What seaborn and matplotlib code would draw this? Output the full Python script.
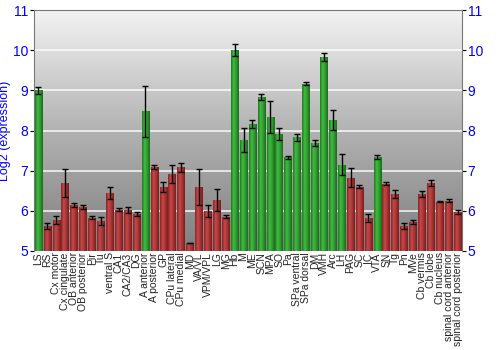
import numpy as np
import pandas as pd
import matplotlib
matplotlib.use("Agg")
import matplotlib.pyplot as plt
import seaborn as sns
from matplotlib.colors import LinearSegmentedColormap

regions = ["LS", "RS", "Cx motor", "Cx cingulate", "OB anterior", "OB posterior",
           "Pir", "Tu", "ventral S", "CA1", "CA2/CA3", "DG", "A anterior",
           "A posterior", "GP", "CPu lateral", "CPu medial", "MD", "VA/VL",
           "VPM/VPL", "LG", "MG", "Hb", "M", "ME", "SCN", "MPA", "SO", "Pa",
           "SPa ventral", "SPa dorsal", "DM", "VMH", "Arc", "LH", "PAG", "SC",
           "IC", "VTA", "SN", "Tg", "Pn", "MVe", "Cb vermis", "Cb lobe",
           "Cb nucleus", "spinal cord anterior", "spinal cord posterior"]
expression = [9.0, 5.62, 5.78, 6.7, 6.15, 6.1, 5.83, 5.75, 6.45, 6.03, 6.02, 5.93,
              8.48, 7.08, 6.6, 6.92, 7.08, 5.2, 6.6, 6.0, 6.27, 5.85, 10.0, 7.77,
              8.17, 8.84, 8.33, 7.92, 7.33, 7.83, 9.17, 7.69, 9.84, 8.27, 7.15,
              6.83, 6.6, 5.83, 7.34, 6.68, 6.43, 5.62, 5.72, 6.42, 6.7, 6.23,
              6.25, 5.98]
errors = [0.08, 0.08, 0.1, 0.35, 0.05, 0.05, 0.04, 0.1, 0.15, 0.03, 0.07, 0.05,
          0.63, 0.05, 0.12, 0.23, 0.12, 0.01, 0.45, 0.15, 0.27, 0.04, 0.15, 0.3,
          0.1, 0.08, 0.4, 0.15, 0.03, 0.08, 0.04, 0.07, 0.1, 0.25, 0.27,
          0.23, 0.04, 0.1, 0.06, 0.03, 0.1, 0.08, 0.05, 0.07, 0.08, 0.01,
          0.04, 0.05]
group = ["high" if v > 7.1 else "low" for v in expression]

df = pd.DataFrame({"region": regions, "expression": expression,
                   "err": errors, "group": group})

plt.rcParams["font.family"] = ["Liberation Sans", "DejaVu Sans"]

fig = plt.figure(figsize=(5, 3.5), dpi=100)
ax = fig.add_axes([0.068, 0.283, 0.856, 0.688])

# grey vertical gradient background
bg = LinearSegmentedColormap.from_list("bg", ["#7f7f7f", "#b2b2b2", "#f3f3f3"])
ax.imshow(np.linspace(0, 1, 256).reshape(-1, 1), cmap=bg, origin="lower",
          aspect="auto", extent=[-0.5, len(regions) - 0.5, 5, 11], zorder=0)

sns.barplot(data=df, x="region", y="expression", hue="group",
            palette={"high": "#2f9a2f", "low": "#a83232"}, dodge=False,
            width=0.85, legend=False, errorbar=None, ax=ax, zorder=2)

shades = {
    "high": LinearSegmentedColormap.from_list("g", ["#1f7a1f", "#42bc42", "#2e9a2e", "#1a6a1a"]),
    "low": LinearSegmentedColormap.from_list("r", ["#8a2222", "#c44a4a", "#a83333", "#7a1c1c"]),
}
for patch in ax.patches:
    x0 = patch.get_x()
    w = patch.get_width()
    h = patch.get_height()
    if h == 0 or np.isnan(h):
        continue
    idx = int(round(x0 + w / 2))
    im = ax.imshow(np.linspace(0, 1, 64).reshape(1, -1), cmap=shades[group[idx]],
                   aspect="auto", extent=[x0, x0 + w, 5, patch.get_y() + h], zorder=2)
    patch.set_facecolor("none")
    patch.set_edgecolor("none")
    im.set_clip_path(patch)

ax.errorbar(np.arange(len(regions)), expression, yerr=errors, fmt="none",
            ecolor="black", elinewidth=1, capsize=2.5, capthick=1, zorder=4)

ax.set_xlim(-0.5, len(regions) - 0.5)
ax.set_ylim(5, 11)
ax.set_yticks(range(5, 12))
for y in range(6, 11):
    ax.axhline(y, color="white", lw=1.2, alpha=0.85, zorder=1)

ax.set_xlabel("")
ax.set_ylabel("Log2 (expression)", color="blue", fontsize=9)
ax.yaxis.set_label_coords(-0.054, 0.5)
ax.set_xticks(range(len(regions)))
ax.set_xticklabels(regions, rotation=90, fontsize=7.5, color="#222222")
ax.tick_params(axis="x", length=0, pad=1)
ax.tick_params(axis="y", colors="black", labelcolor="blue", labelsize=10,
               length=3, left=True, right=True, labelleft=True, labelright=True,
               direction="out", pad=1)
for side in ["left", "right", "top"]:
    ax.spines[side].set_color("#777777")
ax.spines["bottom"].set_visible(False)

fig.savefig("out.png", dpi=100)
